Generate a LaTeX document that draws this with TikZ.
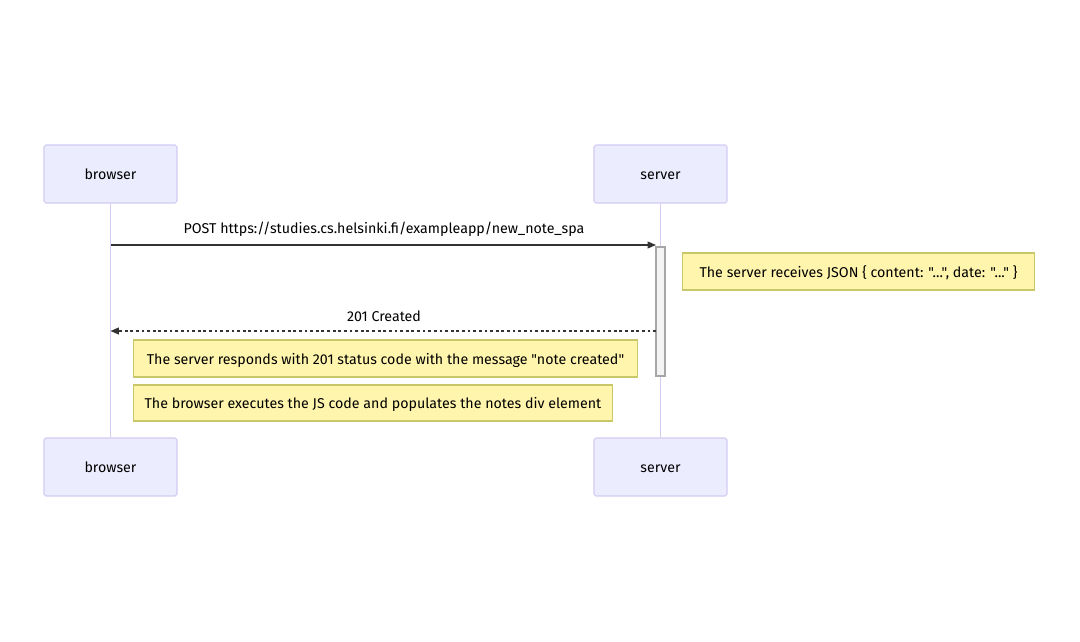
\documentclass[tikz,border=0pt]{standalone}
\usepackage{fontspec}
\setmainfont{Fira Sans}[Ligatures=TeXOff]
\usetikzlibrary{arrows.meta}
\definecolor{actorfill}{HTML}{ECECFF}
\definecolor{actorline}{HTML}{D3CBF2}
\definecolor{notefill}{HTML}{FFF5AD}
\definecolor{noteline}{HTML}{C8C86A}
\definecolor{msgline}{HTML}{333333}
\definecolor{actfill}{HTML}{F4F4F4}
\begin{document}
\begin{tikzpicture}[x=0.02cm, y=-0.02cm, font=\fontsize{8.1}{9}\selectfont,
  actor/.style={rectangle, rounded corners=1pt, draw=actorline, fill=actorfill, line width=0.6pt, minimum width=2.66cm, minimum height=1.16cm, text height=1.6ex, text depth=0.4ex},
  note/.style={rectangle, draw=noteline, fill=notefill, line width=0.6pt, minimum height=0.74cm, inner sep=0pt, text height=1.6ex, text depth=0.4ex},
  msg/.style={draw=msgline, line width=0.7pt, -{Triangle[length=0.17cm, width=0.14cm]}},
  reply/.style={msg, dash pattern=on 1.6pt off 1.6pt},
  life/.style={draw=actorline, line width=0.8pt}]
       \useasboundingbox (0,0) rectangle (1080,642);
       \node[actor] (b1) at (110.5, 174)  {browser};
       \node[actor] (s1) at (660.5, 174)  {server};
       \node[actor] (b2) at (110.5, 467)  {browser};
       \node[actor] (s2) at (660.5, 467)  {server};
       \draw[life] (b1) -- (b2);
       \draw[life] (s1) -- (s2);

       \node[rectangle, draw=gray!70, fill=actfill, line width=0.6pt, minimum width=0.18cm, minimum height=2.58cm, inner sep=0pt] (act) at (660.5, 311.5) {};
       \coordinate (m1s) at (110.5, 245);
       \coordinate (m1e) at (656, 245);
       \coordinate (m2s) at (656, 331);
       \coordinate (m2e) at (110.5, 331);

       \draw[msg] (m1s) -- (m1e);
       \node (l1) at (384, 229) {POST https://studies.cs.helsinki.fi/exampleapp/new\_note\_spa};
       \draw[reply] (m2s) -- (m2e);
       \node (l2) at (384, 316) {201 Created};

       \node[note, minimum width=7.06cm] (n1) at (858.5, 271.5) {The server receives JSON \{ content: "...", date: "..." \}};
       \node[note, minimum width=10.1cm] (n2) at (385.5, 358.5) {The server responds with 201 status code with the message "note created"};
       \node[note, minimum width=9.6cm, minimum height=0.72cm] (n3) at (373, 403) {The browser executes the JS code and populates the notes div element};
     \end{tikzpicture}
\end{document}
